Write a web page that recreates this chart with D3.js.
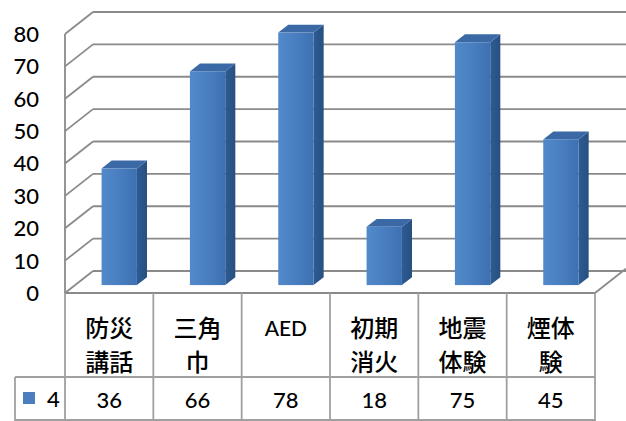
<!DOCTYPE html>
<html>
<head>
<meta charset="utf-8">
<script src="https://cdn.jsdelivr.net/npm/d3@7"></script>
<style>
  html, body { margin: 0; padding: 0; background: #fff; }
  svg { display: block; }
</style>
</head>
<body>
<svg id="chart" width="626" height="421"></svg>
<script>
const categories = ["防災講話", "三角巾", "AED", "初期消火", "地震体験", "煙体験"];
const categoryLines = [["防災", "講話"], ["三角", "巾"], ["AED"], ["初期", "消火"], ["地震", "体験"], ["煙体", "験"]];
const values = [36, 66, 78, 18, 75, 45];
const seriesName = "4";
const yTicks = [0, 10, 20, 30, 40, 50, 60, 70, 80];

const svg = d3.select("#chart");
const W = 626, H = 421;
const latin = "Lato, 'Open Sans', sans-serif";
const cjk = "'Noto Sans CJK JP', 'Noto Sans', sans-serif";

const x = d3.scaleBand().domain(categories).range([65, 595]).padding(0);
const y = d3.scaleLinear().domain([0, 80]).range([293, 34]);
const DX = 28, DY = -22;           // depth offset (front -> back)
const F0 = 0.36, F1 = 0.72;        // bar depth fractions
const bw = x.bandwidth();

const defs = svg.append("defs");
const g1 = defs.append("linearGradient").attr("id", "front").attr("x1", 0).attr("x2", 1).attr("y1", 0).attr("y2", 0);
g1.append("stop").attr("offset", "0%").attr("stop-color", "#5189cb");
g1.append("stop").attr("offset", "45%").attr("stop-color", "#4a80c2");
g1.append("stop").attr("offset", "100%").attr("stop-color", "#3d70b0");
const g2 = defs.append("linearGradient").attr("id", "side").attr("x1", 0).attr("x2", 1).attr("y1", 0).attr("y2", 0);
g2.append("stop").attr("offset", "0%").attr("stop-color", "#2e5b95");
g2.append("stop").attr("offset", "100%").attr("stop-color", "#27507f");

const gridColor = "#8a8a8a";
const grid = svg.append("g").attr("fill", "none").attr("stroke", gridColor).attr("stroke-width", 1.8);

// back wall gridlines
yTicks.forEach(t => {
  grid.append("line")
    .attr("x1", 65 + DX).attr("x2", W)
    .attr("y1", y(t) + DY).attr("y2", y(t) + DY);
  // side wall diagonal
  grid.append("line")
    .attr("x1", 65).attr("x2", 65 + DX)
    .attr("y1", y(t)).attr("y2", y(t) + DY);
});
// left wall front edge
grid.append("line").attr("x1", 65).attr("x2", 65).attr("y1", y(80)).attr("y2", y(0));
// floor front edge and right edge
grid.append("line").attr("x1", 65).attr("x2", 595).attr("y1", y(0)).attr("y2", y(0));
grid.append("line").attr("x1", 595).attr("x2", 595 + DX * 1.1).attr("y1", y(0)).attr("y2", y(0) + DY * 1.1);

// bars
const bars = svg.append("g");
categories.forEach((c, i) => {
  const v = values[i];
  const xl = x(c) + bw * 0.3 + F0 * DX;
  const xr = xl + bw * 0.4;
  const yb = y(0) + F0 * DY;
  const yt = y(v) + F0 * DY;
  const ddx = (F1 - F0) * DX, ddy = (F1 - F0) * DY;
  bars.append("path")
    .attr("d", `M${xr},${yt}L${xr + ddx},${yt + ddy}L${xr + ddx},${yb + ddy}L${xr},${yb}Z`)
    .attr("fill", "url(#side)");
  bars.append("path")
    .attr("d", `M${xl},${yt}L${xl + ddx},${yt + ddy}L${xr + ddx},${yt + ddy}L${xr},${yt}Z`)
    .attr("fill", "#3a69a6");
  bars.append("rect")
    .attr("x", xl).attr("y", yt).attr("width", xr - xl).attr("height", yb - yt)
    .attr("fill", "url(#front)");
});

// y axis labels
svg.append("g").selectAll("text").data(yTicks).join("text")
  .attr("x", 39).attr("y", d => y(d))
  .attr("dy", "0.36em")
  .attr("text-anchor", "end")
  .attr("font-family", latin).attr("font-size", 22).attr("font-weight", 500).attr("fill", "#000")
  .text(d => d);

// data table
const tableColor = "#a0a0a0";
const tbl = svg.append("g").attr("stroke", tableColor).attr("stroke-width", 1.8);
const rowTop = y(0), rowMid = 377, rowBot = 420;
categories.forEach(c => {
  tbl.append("line").attr("x1", x(c)).attr("x2", x(c)).attr("y1", rowTop).attr("y2", H);
});
tbl.append("line").attr("x1", 595).attr("x2", 595).attr("y1", rowTop).attr("y2", H);
tbl.append("line").attr("x1", 15).attr("x2", 595).attr("y1", rowMid).attr("y2", rowMid);
tbl.append("line").attr("x1", 15).attr("x2", 15).attr("y1", rowMid).attr("y2", H);
tbl.append("line").attr("x1", 15).attr("x2", 595).attr("y1", rowBot).attr("y2", rowBot);

const lab = svg.append("g").attr("text-anchor", "middle").attr("fill", "#000");
categories.forEach((c, i) => {
  const cx = x(c) + bw / 2;
  categoryLines[i].forEach((ln, j) => {
    const isLatin = /^[A-Za-z]+$/.test(ln);
    lab.append("text")
      .attr("x", cx).attr("y", 328 + j * 34)
      .attr("dy", "0.36em")
      .attr("font-family", isLatin ? latin : cjk)
      .attr("font-size", isLatin ? 21 : 24)
      .attr("font-weight", 500)
      .text(ln);
  });
  lab.append("text")
    .attr("x", cx).attr("y", 400)
    .attr("dy", "0.36em")
    .attr("font-family", latin).attr("font-size", 22).attr("font-weight", 500)
    .text(values[i]);
});

// legend key
svg.append("rect").attr("x", 23).attr("y", 392).attr("width", 12).attr("height", 12).attr("fill", "#4a7ebf");
svg.append("text").attr("x", 47).attr("y", 399).attr("dy", "0.36em")
  .attr("font-family", latin).attr("font-size", 22).attr("font-weight", 500).attr("fill", "#000").text(seriesName);
</script>
</body>
</html>
